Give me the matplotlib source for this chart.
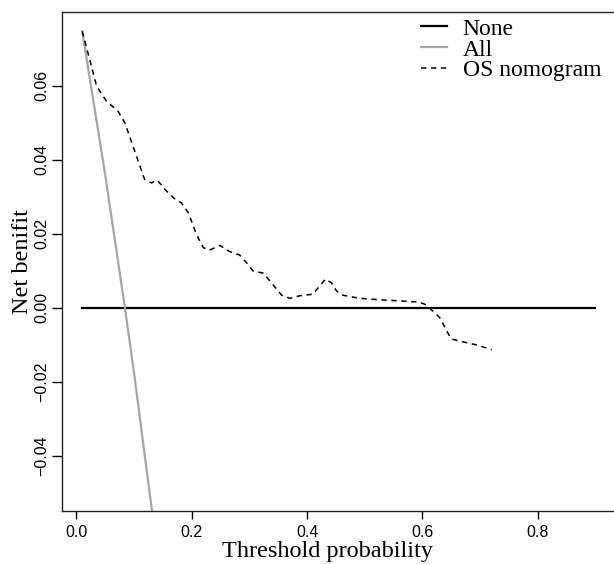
import matplotlib
matplotlib.use("Agg")
import matplotlib.pyplot as plt

# ---- data ----
none_x = [0.01, 0.90]
none_y = [0.0, 0.0]

all_x = [0.01, 0.05, 0.084, 0.10, 0.15]
all_y = [0.0747, 0.0357, 0.0, -0.0179, -0.0778]

os_x = [0.010, 0.023, 0.035, 0.052, 0.072, 0.084, 0.095, 0.107, 0.118, 0.130,
        0.140, 0.153, 0.168, 0.182, 0.194, 0.208, 0.220, 0.230, 0.249, 0.266,
        0.283, 0.295, 0.306, 0.324, 0.338, 0.356, 0.370, 0.387, 0.410, 0.422,
        0.432, 0.442, 0.451, 0.460, 0.491, 0.526, 0.561, 0.593, 0.604, 0.614,
        0.624, 0.632, 0.640, 0.650, 0.671, 0.694, 0.720]
os_y = [0.0747, 0.0670, 0.0598, 0.0558, 0.0531, 0.0499, 0.0450, 0.0396, 0.0347, 0.0337,
        0.0345, 0.0320, 0.0297, 0.0283, 0.0256, 0.0198, 0.0162, 0.0155, 0.0168, 0.0151,
        0.0142, 0.0121, 0.0099, 0.0093, 0.0067, 0.0033, 0.0025, 0.0032, 0.0036, 0.0059,
        0.0077, 0.0067, 0.0045, 0.0034, 0.0025, 0.0021, 0.0018, 0.0015, 0.0009, -0.0004,
        -0.0018, -0.0031, -0.0058, -0.0085, -0.0093, -0.0101, -0.0114]

xticks = [0.0, 0.2, 0.4, 0.6, 0.8]
yticks = [-0.04, -0.02, 0.0, 0.02, 0.04, 0.06]

serif = ["Liberation Serif", "DejaVu Serif"]
sans = ["Liberation Sans", "DejaVu Sans"]

fig = plt.figure(figsize=(6.14, 5.64), dpi=100)
ax = fig.add_axes([0.1005, 0.094, 0.9028, 0.8853])

ax.plot(none_x, none_y, color="black", lw=1.6, label="None")
ax.plot(all_x, all_y, color="#a6a6a6", lw=1.6, label="All")
ax.plot(os_x, os_y, color="black", lw=1.1, linestyle=(0, (3.5, 3)), label="OS nomogram")

ax.set_xlim(-0.0256, 0.9356)
ax.set_ylim(-0.055, 0.08)

ax.set_xticks(xticks)
ax.set_xticklabels([f"{t:.1f}" for t in xticks], fontfamily=sans, fontsize=11.5)
ax.set_yticks(yticks)
ax.set_yticklabels([f"{t:.2f}".replace("-", "\u2212") for t in yticks],
                   fontfamily=sans, fontsize=11.5, rotation=90, va="center")
ax.tick_params(axis="x", direction="out", length=6, width=1, pad=4)
ax.tick_params(axis="y", direction="out", length=7.5, width=1, pad=1.5)

for side in ["left", "bottom", "top", "right"]:
    ax.spines[side].set_linewidth(1.0)
    ax.spines[side].set_color("#222222")

ax.set_xlabel("Threshold probability", fontfamily=serif, fontsize=17.5)
ax.xaxis.set_label_coords(0.48, -0.06)
ax.set_ylabel("Net benifit", fontfamily=serif, fontsize=17.5)
ax.yaxis.set_label_coords(-0.052, 0.5)

leg = ax.legend(loc="upper right", bbox_to_anchor=(1.003, 1.02), frameon=False,
                prop={"family": serif, "size": 17}, handlelength=1.1,
                handletextpad=0.65, labelspacing=-0.03, borderpad=0.2)

fig.savefig("out.png", dpi=100)
